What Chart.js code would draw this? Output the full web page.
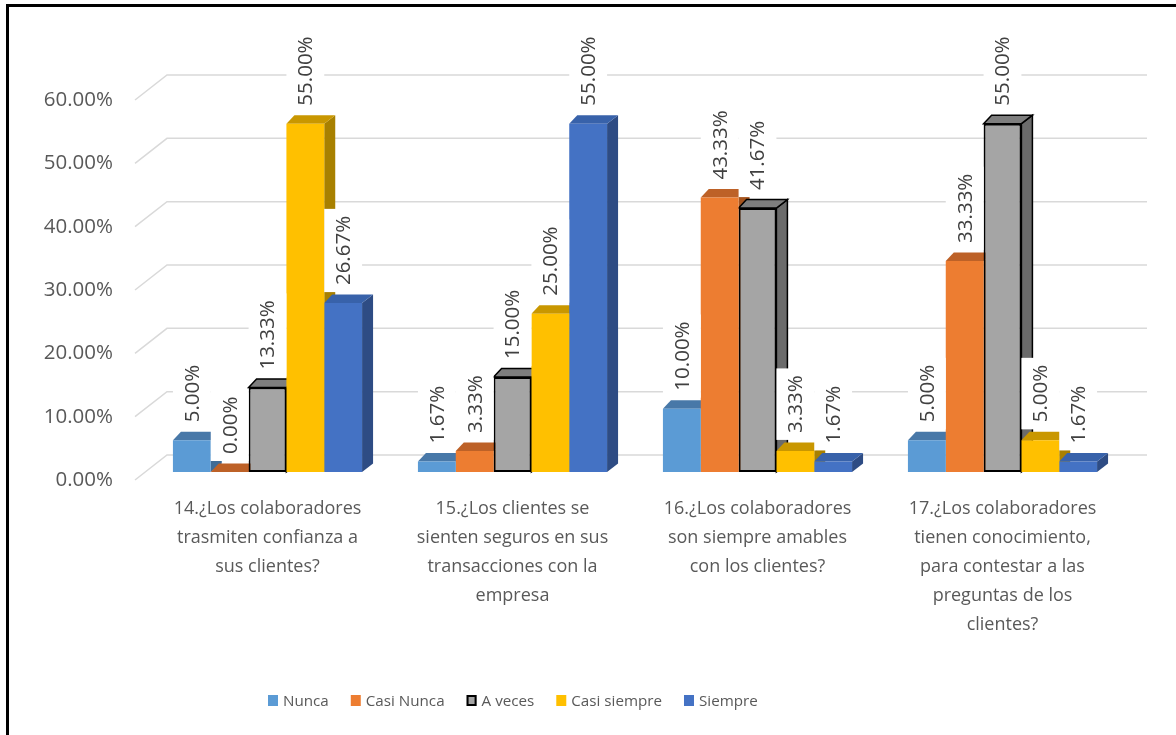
<!DOCTYPE html>
<html>
<head>
<meta charset="utf-8">
<script src="https://cdn.jsdelivr.net/npm/chart.js@4.4.1/dist/chart.umd.min.js"></script>
<style>
  html, body { margin: 0; padding: 0; background: #fff; }
  #wrap { position: relative; width: 1176px; height: 735px; }
</style>
</head>
<body>
<div id="wrap"><canvas id="grafica" width="1176" height="735"></canvas></div>
<script>
// datos
const preguntas = [
    ['14.¿Los colaboradores', 'trasmiten confianza a', 'sus clientes?'],
    ['15.¿Los clientes se', 'sienten seguros en sus', 'transacciones con la', 'empresa'],
    ['16.¿Los colaboradores', 'son siempre amables', 'con los clientes?'],
    ['17.¿Los colaboradores', 'tienen conocimiento,', 'para contestar a las', 'preguntas de los', 'clientes?']
];
const series = ['Nunca', 'Casi Nunca', 'A veces', 'Casi siempre', 'Siempre'];
const nunca = [5.00, 1.67, 10.00, 5.00];
const casiNunca = [0.00, 3.33, 43.33, 33.33];
const aVeces = [13.33, 15.00, 41.67, 55.00];
const casiSiempre = [55.00, 25.00, 3.33, 5.00];
const siempre = [26.67, 55.00, 1.67, 1.67];
const yTicks = [0, 10, 20, 30, 40, 50, 60];

const colFrente = ['#5B9BD5', '#ED7D31', '#A5A5A5', '#FFC000', '#4472C4'];
const colTapa = ['#4878A8', '#BD6127', '#7E7E7E', '#C99700', '#3862AA'];
const colLado = ['#3F6C96', '#A5541E', '#6B6B6B', '#A88000', '#2E4C84'];

const DXL = 8, DXR = 11, DY = 8.5;
const fuente = '"Open Sans", sans-serif';

function barras(chart) {
    const lista = [];
    chart.data.datasets.forEach((ds, i) => {
        chart.getDatasetMeta(i).data.forEach((el, j) => {
            const p = el.getProps(['x', 'y', 'base', 'width'], true);
            lista.push({ i, j, x: p.x, y: p.y, base: p.base, w: p.width, v: ds.data[j] });
        });
    });
    return lista.sort((a, b) => a.x - b.x);
}

function poligono(ctx, pts, fill, stroke) {
    ctx.beginPath();
    ctx.moveTo(pts[0][0], pts[0][1]);
    for (let k = 1; k < pts.length; k++) ctx.lineTo(pts[k][0], pts[k][1]);
    ctx.closePath();
    ctx.fillStyle = fill;
    ctx.fill();
    if (stroke) {
        ctx.strokeStyle = stroke;
        ctx.lineWidth = 1.5;
        ctx.stroke();
    }
}

const efecto3d = {
    id: 'efecto3d',
    beforeDatasetsDraw(chart) {
        const ctx = chart.ctx;
        const area = chart.chartArea;
        const y = chart.scales.y;
        ctx.save();
        // lineas de cuadricula con la pared izquierda
        ctx.strokeStyle = '#D9D9D9';
        ctx.lineWidth = 1.5;
        yTicks.forEach((t) => {
            const py = y.getPixelForValue(t);
            ctx.beginPath();
            ctx.moveTo(area.left - 10, py + 8);
            ctx.lineTo(area.left + 22, py - 17);
            ctx.lineTo(area.right + 22, py - 17);
            ctx.stroke();
        });
        ctx.fillStyle = '#595959';
        ctx.font = '20.5px ' + fuente;
        ctx.textAlign = 'right';
        ctx.textBaseline = 'middle';
        yTicks.forEach((t) => {
            const py = y.getPixelForValue(t);
            ctx.fillText(t.toFixed(2) + '%', area.left - 32, py + 8);
        });
        // caras laterales y superiores
        const lista = barras(chart);
        lista.forEach((b) => {
            const R = b.x + b.w / 2;
            poligono(ctx, [[R, b.y], [R + DXR, b.y - DY], [R + DXR, b.base - DY], [R, b.base]],
                colLado[b.i], b.i === 2 ? '#000' : null);
        });
        lista.forEach((b) => {
            const L = b.x - b.w / 2, R = b.x + b.w / 2;
            poligono(ctx, [[L, b.y], [L + DXL, b.y - DY], [R + DXR, b.y - DY], [R, b.y]],
                colTapa[b.i], b.i === 2 ? '#000' : null);
        });
        ctx.restore();
    },
    afterDatasetsDraw(chart) {
        const ctx = chart.ctx;
        ctx.save();
        // etiquetas de datos
        ctx.font = '20.5px ' + fuente;
        ctx.textBaseline = 'middle';
        ctx.textAlign = 'center';
        barras(chart).forEach((b) => {
            const txt = b.v.toFixed(2) + '%';
            const tw = ctx.measureText(txt).width;
            const h = tw + 14;
            const cy = b.y - 11 - h / 2;
            ctx.save();
            ctx.translate(b.x, cy);
            ctx.rotate(-Math.PI / 2);
            ctx.fillStyle = '#fff';
            ctx.fillRect(-h / 2, -b.w / 2, h, b.w);
            ctx.fillStyle = '#404040';
            ctx.fillText(txt, 0, 1);
            ctx.restore();
        });
        // leyenda
        ctx.font = '15.2px ' + fuente;
        ctx.textAlign = 'left';
        let lx = 268;
        series.forEach((s, i) => {
            ctx.fillStyle = colFrente[i];
            ctx.fillRect(lx, 695, 10, 11);
            if (i === 2) {
                ctx.strokeStyle = '#000';
                ctx.lineWidth = 2;
                ctx.strokeRect(lx + 1, 696, 8, 9);
            }
            ctx.fillStyle = '#595959';
            ctx.fillText(s, lx + 15, 702);
            lx += 15 + ctx.measureText(s).width + 22;
        });
        // marco
        ctx.fillStyle = '#000';
        ctx.fillRect(6, 4, 3, 735);
        ctx.fillRect(6, 4, 1176, 3);
        ctx.restore();
    }
};

const conjuntos = [nunca, casiNunca, aVeces, casiSiempre, siempre].map((d, i) => ({
    label: series[i],
    data: d,
    backgroundColor: colFrente[i],
    borderColor: i === 2 ? '#000' : colFrente[i],
    borderWidth: i === 2 ? 2 : 0,
    borderSkipped: false,
    barPercentage: 1,
    categoryPercentage: 0.772
}));

new Chart(document.getElementById('grafica'), {
    type: 'bar',
    data: { labels: preguntas, datasets: conjuntos },
    options: {
        responsive: false,
        animation: false,
        events: [],
        layout: { padding: { top: 92, left: 145, right: 51, bottom: 83 } },
        plugins: { legend: { display: false }, tooltip: { enabled: false } },
        scales: {
            x: {
                grid: { display: false, drawTicks: false },
                border: { display: false },
                afterFit: (scale) => { scale.height = 180; },
                ticks: {
                    autoSkip: false,
                    maxRotation: 0,
                    padding: 22,
                    color: '#595959',
                    font: { family: fuente, size: 18, lineHeight: 1.61 }
                }
            },
            y: {
                display: false,
                min: 0,
                max: 60,
                ticks: { stepSize: 10 }
            }
        }
    },
    plugins: [efecto3d]
});
</script>
</body>
</html>
